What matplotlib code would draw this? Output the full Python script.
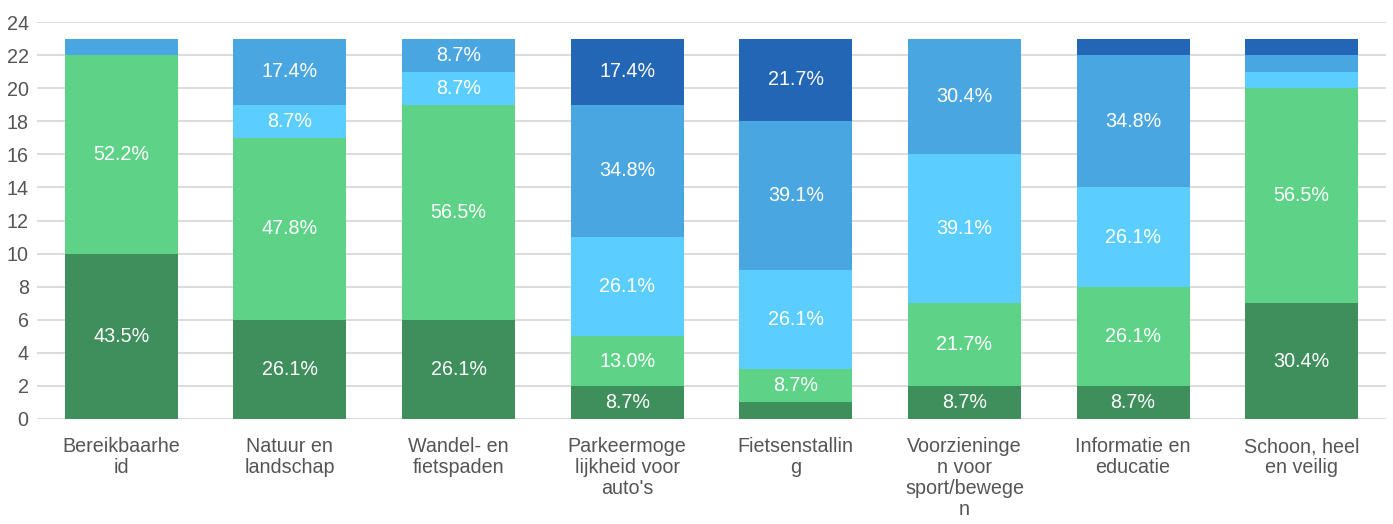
import matplotlib
matplotlib.use("Agg")
import matplotlib.pyplot as plt
import numpy as np

categories = ["Bereikbaarhe\nid", "Natuur en\nlandschap", "Wandel- en\nfietspaden",
              "Parkeermoge\nlijkheid voor\nauto's", "Fietsenstallin\ng",
              "Voorzieninge\nn voor\nsport/bewege\nn", "Informatie en\neducatie",
              "Schoon, heel\nen veilig"]
s1 = [10, 6, 6, 2, 1, 2, 2, 7]
s2 = [12, 11, 13, 3, 2, 5, 6, 13]
s3 = [0, 2, 2, 6, 6, 9, 6, 1]
s4 = [1, 4, 2, 8, 9, 7, 8, 1]
s5 = [0, 0, 0, 4, 5, 0, 1, 1]
series = [s1, s2, s3, s4, s5]
colors = ["#3F8F5C", "#5ED388", "#5BCEFF", "#4AA6E1", "#2266B5"]
yticks = list(range(0, 25, 2))

plt.rcParams['font.family'] = ['Liberation Sans', 'DejaVu Sans']
fig = plt.figure(figsize=(13.93, 5.24), dpi=100)
ax = fig.add_axes([37/1393, 1 - 419/524, (1386-37)/1393, (419-22)/524])

x = np.arange(len(categories))
totals = np.sum(series, axis=0)
bottom = np.zeros(len(categories))
for vals, c in zip(series, colors):
    vals = np.array(vals, dtype=float)
    ax.bar(x, vals, bottom=bottom, width=0.67, color=c, zorder=3)
    for i, v in enumerate(vals):
        if v >= 2:
            ax.text(x[i], bottom[i] + v / 2, f"{v / totals[i] * 100:.1f}%",
                    ha='center', va='center', color='white', fontsize=14.2, zorder=4)
    bottom += vals

ax.set_xlim(-0.5, len(categories) - 0.5)
ax.set_ylim(0, 24)
ax.set_yticks(yticks)
ax.set_xticks(x)
ax.set_xticklabels(categories, fontsize=14.2, color='#555555', linespacing=1.13)
ax.tick_params(axis='y', labelsize=14.2, labelcolor='#555555', length=0, pad=6)
ax.tick_params(axis='x', length=0, pad=13)
ax.grid(axis='y', color='#D9D9D9', linewidth=1.3, zorder=0)
for sp in ax.spines.values():
    sp.set_visible(False)

fig.savefig("out.png", dpi=100)
